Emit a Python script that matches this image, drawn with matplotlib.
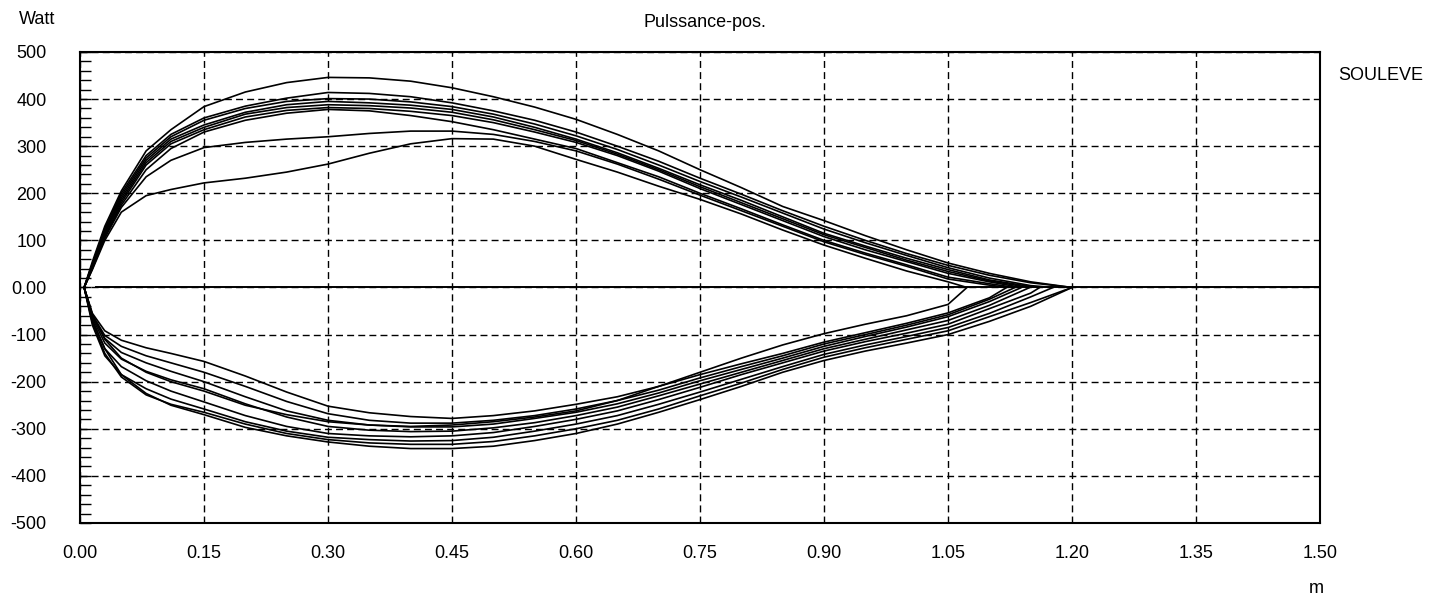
import numpy as np
import matplotlib.pyplot as plt
from matplotlib.ticker import MultipleLocator

plt.rcParams["font.family"] = ["Liberation Sans", "DejaVu Sans"]

x_grid = [0.005, 0.015, 0.03, 0.05, 0.08, 0.11, 0.15, 0.20, 0.25, 0.30, 0.35, 0.40, 0.45,
          0.50, 0.55, 0.60, 0.65, 0.70, 0.75, 0.80, 0.85, 0.90, 0.95, 1.00, 1.05, 1.10, 1.15]

# end position of each cycle (m)
tips = [1.20, 1.20, 1.177, 1.161, 1.149, 1.139, 1.131, 1.121, 1.073]

# power during the lift (W), positive branch
up1 = [0, 55, 130, 205, 290, 335, 384, 415, 435, 446, 445, 438, 424, 405, 383, 357, 325, 290, 250, 212, 172, 142, 110, 80, 52, 30, 12]
up2 = [0, 50, 125, 200, 280, 325, 360, 385, 402, 414, 412, 405, 392, 375, 355, 330, 300, 268, 232, 198, 163, 130, 100, 72, 47, 26, 10]
up3 = [0, 50, 120, 195, 275, 320, 355, 380, 395, 401, 400, 394, 384, 368, 347, 322, 293, 260, 225, 192, 158, 124, 95, 68, 42, 20, 4]
up4 = [0, 48, 118, 190, 270, 315, 345, 372, 388, 395, 392, 387, 378, 362, 340, 315, 286, 253, 218, 185, 150, 115, 88, 62, 38, 16, 2]
up5 = [0, 45, 115, 185, 265, 310, 340, 368, 382, 388, 386, 381, 372, 356, 335, 312, 283, 250, 214, 180, 146, 112, 85, 58, 34, 14]
up6 = [0, 42, 110, 180, 260, 305, 335, 362, 376, 382, 380, 374, 365, 350, 330, 308, 280, 247, 210, 176, 142, 108, 80, 55, 30, 12]
up7 = [0, 42, 108, 175, 250, 295, 330, 355, 370, 378, 375, 365, 352, 335, 315, 295, 265, 235, 200, 167, 133, 100, 73, 48, 22, 8]
up8 = [0, 40, 105, 170, 235, 270, 297, 308, 315, 320, 327, 332, 332, 325, 310, 290, 262, 230, 196, 163, 130, 97, 70, 45, 18, 5]
up9 = [0, 38, 100, 160, 195, 208, 222, 232, 245, 262, 285, 305, 316, 315, 300, 272, 245, 215, 187, 156, 122, 90, 62, 35, 12]

# power on the way back (W), negative branch
dn1 = [0, -70, -130, -185, -225, -250, -270, -297, -315, -328, -337, -342, -342, -337, -325, -310, -290, -265, -238, -210, -180, -155, -135, -118, -100, -72, -40]
dn2 = [0, -75, -140, -190, -228, -248, -265, -290, -310, -323, -330, -333, -333, -327, -315, -300, -282, -258, -230, -203, -174, -148, -128, -110, -92, -62, -32]
dn3 = [0, -80, -145, -185, -215, -237, -258, -285, -305, -318, -323, -326, -325, -318, -305, -290, -272, -248, -222, -195, -168, -142, -122, -104, -85, -55, -20]
dn4 = [0, -70, -130, -168, -198, -220, -243, -272, -295, -310, -315, -317, -315, -308, -295, -280, -262, -238, -212, -185, -160, -135, -115, -97, -78, -45, -12]
dn5 = [0, -65, -118, -152, -178, -196, -215, -247, -275, -295, -303, -306, -305, -298, -287, -272, -254, -230, -205, -180, -155, -130, -110, -90, -70, -38]
dn6 = [0, -60, -108, -138, -160, -178, -200, -232, -262, -282, -292, -296, -296, -290, -278, -265, -247, -224, -198, -174, -150, -125, -104, -84, -62, -30]
dn7 = [0, -58, -102, -125, -145, -160, -180, -210, -242, -268, -282, -288, -288, -282, -272, -258, -240, -218, -192, -168, -145, -120, -100, -80, -58, -25]
dn8 = [0, -55, -92, -112, -128, -140, -157, -188, -222, -252, -266, -274, -278, -272, -262, -248, -232, -210, -185, -162, -140, -116, -96, -76, -54, -22]
dn9 = [0, -60, -110, -150, -180, -200, -220, -250, -270, -285, -292, -295, -292, -285, -275, -262, -240, -210, -180, -150, -122, -98, -78, -60, -36]

ups = [up1, up2, up3, up4, up5, up6, up7, up8, up9]
dns = [dn1, dn2, dn3, dn4, dn5, dn6, dn7, dn8, dn9]

fig = plt.figure(figsize=(14.39, 5.96), dpi=100)
ax = fig.add_axes([0.0556, 0.1225, 0.8617, 0.7903])

for up, dn, tip in zip(ups, dns, tips):
    xs = x_grid[:len(up)]
    xd = x_grid[:len(dn)]
    x_loop = list(xs) + [tip] + list(xd[::-1])
    y_loop = list(up) + [0] + list(dn[::-1])
    ax.plot(x_loop, y_loop, color="black", lw=1.2)

ax.axhline(0, xmin=0.013, xmax=1, color="black", lw=1.4)

ax.set_xlim(0, 1.5)
ax.set_ylim(-500, 500)
ax.xaxis.set_major_locator(MultipleLocator(0.15))
ax.yaxis.set_major_locator(MultipleLocator(100))
ax.yaxis.set_minor_locator(MultipleLocator(20))
ax.set_xticklabels([f"{v:.2f}" for v in ax.get_xticks()])
ax.set_yticklabels(["0.00" if v == 0 else f"{v:.0f}" for v in ax.get_yticks()])
ax.grid(True, which="major", color="black", linestyle=(0, (5, 3)), lw=1.0)
ax.tick_params(axis="y", which="both", direction="in", length=8, width=1.0, pad=24, labelsize=13)
ax.tick_params(axis="x", which="both", length=0, pad=16, labelsize=13)
for s in ax.spines.values():
    s.set_linewidth(1.5)

fig.text(0.026, 0.968, "Watt", ha="center", va="center", fontsize=13)
fig.text(0.49, 0.963, "Pulssance-pos.", ha="center", va="center", fontsize=13)
fig.text(0.93, 0.874, "SOULEVE", ha="left", va="center", fontsize=13)
fig.text(0.915, 0.013, "m", ha="center", va="center", fontsize=13)

fig.savefig("out.png", dpi=100)
